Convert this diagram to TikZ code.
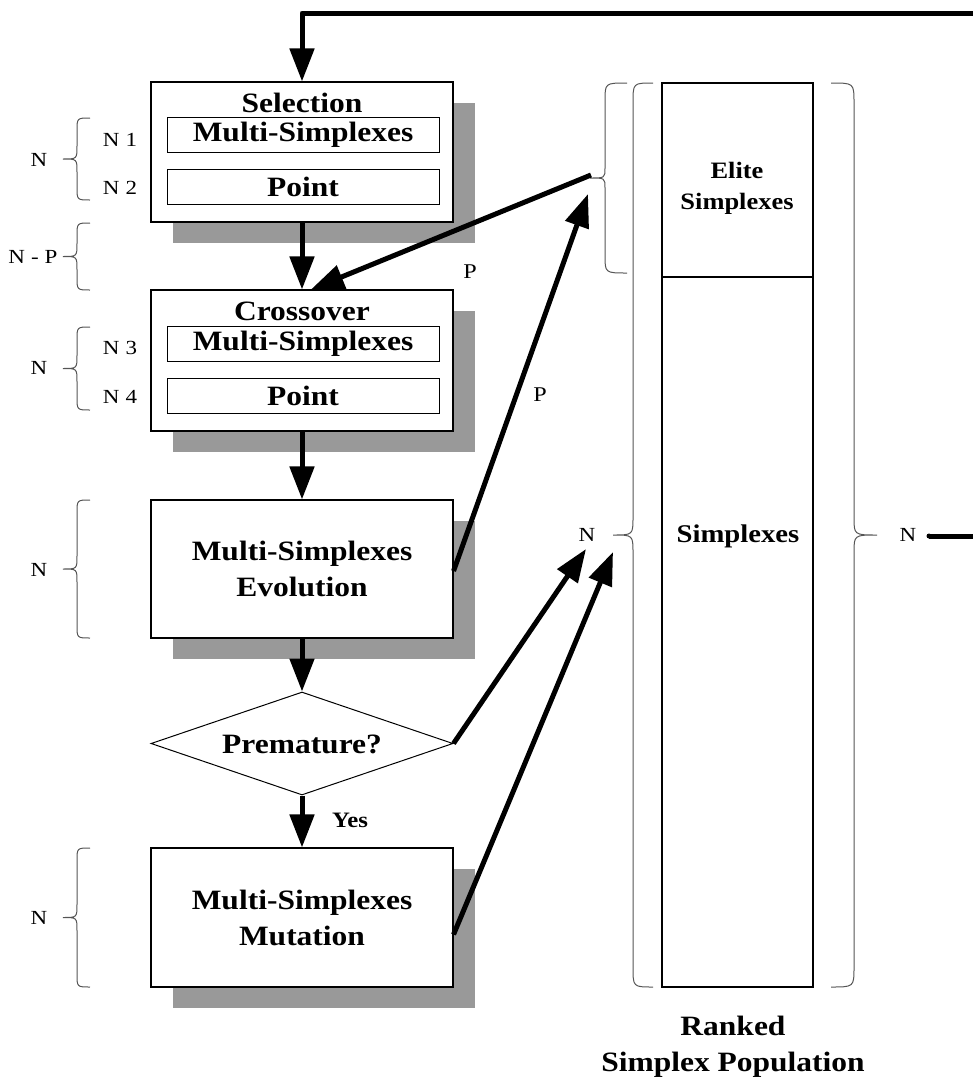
\documentclass[tikz,border=0pt]{standalone}
\usepackage{fontspec}
\setmainfont{Liberation Serif}
\newfontfamily\bsp{Liberation Serif}[FakeStretch=1.125]
\newfontfamily\rsp{Liberation Serif}[FakeStretch=1.15,LetterSpace=30]
\newfontfamily\psp{Liberation Serif}[FakeStretch=1.15]
\usetikzlibrary{arrows.meta,shapes.geometric,shadows}
\definecolor{shadowc}{HTML}{999999}
\definecolor{bracec}{HTML}{555555}
\newcommand{\mybrace}[7]{% xe, yt, yb, xv, xt, r, r2
  \draw[brace] (#1,#2) .. controls (#4,#2) .. (#4,#2+#6)
    -- (#4,{(#2+#3)/2-#7}) .. controls (#4,{(#2+#3)/2}) .. (#5,{(#2+#3)/2})
    .. controls (#4,{(#2+#3)/2}) .. (#4,{(#2+#3)/2+#7})
    -- (#4,#3-#6) .. controls (#4,#3) .. (#1,#3);}
\begin{document}
\begin{tikzpicture}[x=1pt,y=-1pt,
  box/.style={draw=black, line width=1.1pt, fill=white, inner sep=0pt,
    minimum width=302pt, drop shadow={shadow xshift=22pt, shadow yshift=-21pt, opacity=1, fill=shadowc}},
  lbl/.style={font=\bsp\bfseries\fontsize{28}{36}\selectfont, inner sep=0pt, align=center},
  inbox/.style={draw=black, line width=1pt, inner sep=0pt, minimum width=272pt, minimum height=35pt,
    font=\bsp\bfseries\fontsize{28}{36}\selectfont},
  small/.style={font=\rsp\fontsize{20}{22}\selectfont, inner sep=0pt},
  flow/.style={line width=5pt, -{Triangle[length=33pt,width=24pt]}},
  brace/.style={draw=bracec, line width=1pt}]
\useasboundingbox (0,0) rectangle (973,1082);
\clip (0,0) rectangle (973,1082);

% boxes
\node[box, minimum height=140pt] (sel) at (302,152) {};
\node[lbl] (selt) at (302,103) {Selection};
\node[inbox] (sel1) at (303,134.5) {Multi-Simplexes};
\node[inbox] (sel2) at (303,187) {Point};

\node[box, minimum height=141pt] (cro) at (302,360.5) {};
\node[lbl] (crot) at (302,311) {Crossover};
\node[inbox] (cro1) at (303,344) {Multi-Simplexes};
\node[inbox] (cro2) at (303,395.5) {Point};

\node[box, minimum height=138pt] (evo) at (302,569) {};
\node[lbl] (evot) at (302,569) {Multi-Simplexes\\Evolution};

\node[diamond, draw=black, line width=1pt, fill=white, inner sep=0pt,
  minimum width=302pt, minimum height=103pt] (dia) at (302,743.5) {};
\node[lbl] (diat) at (302,744) {Premature?};

\node[box, minimum height=139pt] (mut) at (302,917.5) {};
\node[lbl] (mutt) at (302,918) {Multi-Simplexes\\Mutation};

% population column
\node[draw=black, line width=1.1pt, inner sep=0pt, minimum width=151pt, minimum height=904pt] (pop) at (737.5,535) {};
\draw[line width=1.1pt] (662,277) -- (813,277);
\node[font=\bsp\bfseries\fontsize{23.5}{31}\selectfont, align=center, inner sep=0pt] (elite) at (737,188) {Elite\\Simplexes};
\node[font=\bsp\bfseries\fontsize{25.5}{30}\selectfont, inner sep=0pt] (simp) at (738,536) {Simplexes};
\node[lbl] (rank) at (733,1047) {Ranked\\Simplex Population};

% left labels and braces
\node[small] (n1) at (120,140) {N1};
\node[small] (n2) at (120,188) {N2};
\node[small] (na) at (39,160) {N};
\mybrace{90}{118}{200}{77}{63}{13}{13}
\node[small] (np) at (33,257) {N-P};
\mybrace{90}{223}{290}{77}{63}{13}{13}
\node[small] (n3) at (120,348) {N3};
\node[small] (n4) at (120,397) {N4};
\node[small] (nb) at (39,368) {N};
\mybrace{90}{327}{410}{77}{63}{13}{13}
\node[small] (nc) at (39,570) {N};
\mybrace{90}{500}{638}{77}{63}{13}{13}
\node[small] (nd) at (39,918) {N};
\mybrace{90}{848}{987}{77}{63}{13}{13}

% right braces
\mybrace{627}{83}{273}{605}{590}{18}{10}
\mybrace{653}{83}{987}{633}{613}{20}{18}
\mybrace{831}{83}{987}{854}{877}{20}{18}
\node[small] (nl) at (587,535) {N};
\node[small] (nr) at (908,535) {N};
\node[font=\psp\fontsize{21}{24}\selectfont, inner sep=0pt] (p1) at (470,272) {P};
\node[font=\psp\fontsize{21}{24}\selectfont, inner sep=0pt] (p2) at (540,395) {P};
\node[font=\bsp\bfseries\fontsize{22}{24}\selectfont, inner sep=0pt] (yes) at (350,820) {Yes};

% connectors
\coordinate (nline) at (929,536);
\coordinate (c1) at (1000,536);
\coordinate (c2) at (1000,13);
\coordinate (c3) at (302,13);
\draw[flow, line join=round] (nline) -- (c1) -- (c2) -- (c3) -- (sel.north);
\fill (nline) circle (2.5pt);
\draw[flow] (sel.south) -- (cro.north);
\coordinate (etip) at (591,175);
\draw[flow] (etip) -- ([xshift=9pt]cro.north);
\draw[flow] (cro.south) -- (evo.north);
\coordinate (etgt) at (588,194);
\draw[flow] ([yshift=-2pt]evo.east) -- (etgt);
\draw[flow] (evo.south) -- (dia.north);
\coordinate (ntgt1) at (586,549);
\draw[flow] (dia.east) -- (ntgt1);
\draw[flow] (dia.south) -- (mut.north);
\coordinate (ntgt2) at (613,552);
\draw[flow] ([yshift=-17pt]mut.east) -- (ntgt2);
\end{tikzpicture}
\end{document}
